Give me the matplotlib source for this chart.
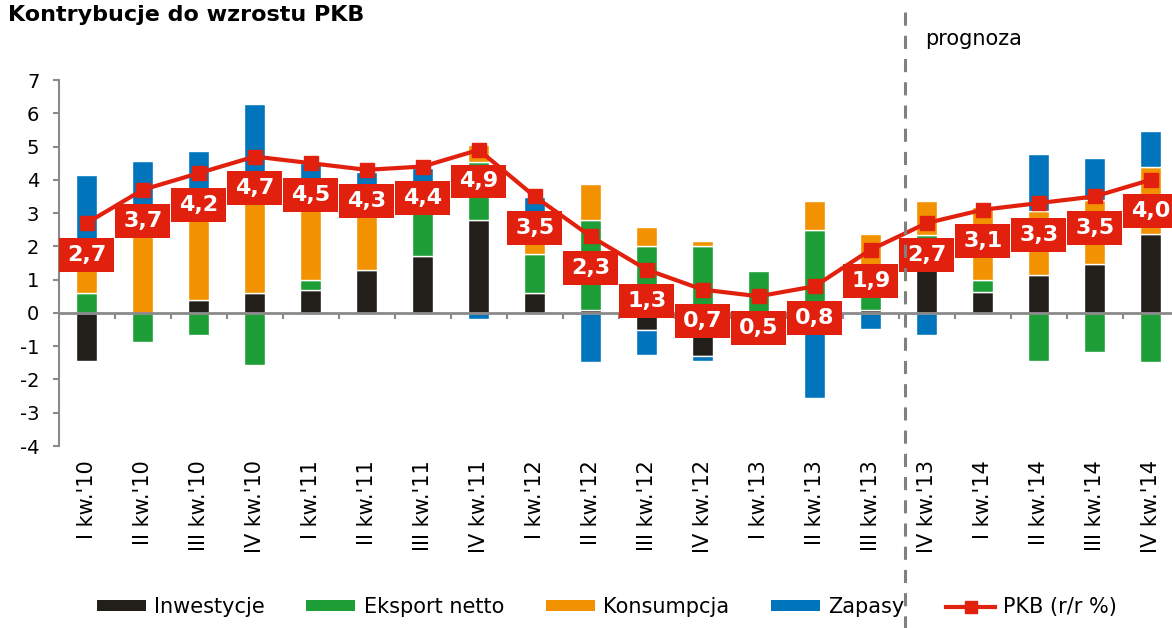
import numpy as np
import matplotlib
matplotlib.use('Agg')
import matplotlib.pyplot as plt
from matplotlib.patches import Patch, Rectangle
from matplotlib.lines import Line2D

plt.rcParams['font.family'] = ['DejaVu Sans']
plt.rcParams['axes.unicode_minus'] = False

# ---- dane ----
quarters = ["I kw.'10", "II kw.'10", "III kw.'10", "IV kw.'10",
            "I kw.'11", "II kw.'11", "III kw.'11", "IV kw.'11",
            "I kw.'12", "II kw.'12", "III kw.'12", "IV kw.'12",
            "I kw.'13", "II kw.'13", "III kw.'13", "IV kw.'13",
            "I kw.'14", "II kw.'14", "III kw.'14", "IV kw.'14"]
inwestycje = [-1.45, 0.0, 0.40, 0.60, 0.70, 1.30, 1.70, 2.80, 0.60, 0.10,
              -0.50, -1.30, -0.77, 0.0, 0.10, 1.90, 0.62, 1.15, 1.47, 2.37]
eksport = [0.60, -0.87, -0.67, -1.57, 0.28, 0.0, 2.20, 1.75, 1.17, 2.70,
           2.00, 2.00, 1.27, 2.50, 0.80, 0.43, 0.38, -1.45, -1.17, -1.47]
konsumpcja = [1.10, 2.60, 2.90, 3.00, 2.60, 2.20, 0.0, 0.50, 0.70, 1.07,
              0.57, 0.17, 0.0, 0.87, 1.48, 1.04, 2.17, 1.90, 1.93, 2.03]
zapasy = [2.45, 1.97, 1.57, 2.67, 0.94, 0.75, 0.47, -0.17, 1.00, -1.47,
          -0.77, -0.15, 0.0, -2.57, -0.48, -0.67, 0.0, 1.72, 1.27, 1.07]
pkb = [2.7, 3.7, 4.2, 4.7, 4.5, 4.3, 4.4, 4.9, 3.5, 2.3,
       1.3, 0.7, 0.5, 0.8, 1.9, 2.7, 3.1, 3.3, 3.5, 4.0]
prognoza_od = 14.62  # granica prognozy (między III i IV kw.'13)

series = [("Inwestycje", inwestycje, "#221e1a"),
          ("Eksport netto", eksport, "#1d9e36"),
          ("Konsumpcja", konsumpcja, "#f39200"),
          ("Zapasy", zapasy, "#0075bb")]
RED = "#e2200e"
GRAY = "#8a8a8a"

W, H = 1172, 628
fig = plt.figure(figsize=(W / 100, H / 100), dpi=100)
ax = fig.add_axes([58.7 / W, 182 / H, (W - 58.7) / W, 366 / H])

x = np.arange(len(quarters))
pos_b = np.zeros(len(x))
neg_b = np.zeros(len(x))
for name, vals, col in series:
    v = np.array(vals)
    bottom = np.where(v >= 0, pos_b, neg_b)
    m = v != 0
    ax.bar(x[m], v[m], 0.37, bottom=bottom[m], color=col,
           edgecolor='white', linewidth=1, zorder=1)
    pos_b += np.clip(v, 0, None)
    neg_b += np.clip(v, None, 0)

ax.plot(x, pkb, color=RED, lw=3, marker='s', markersize=10, zorder=4)

# etykiety PKB
for i, g in enumerate(pkb):
    cy = g - 0.95
    ax.add_patch(Rectangle((i - 0.49, cy - 0.51), 0.98, 1.02,
                           facecolor=RED, edgecolor='none', zorder=5))
    ax.text(i, cy, f"{g:.1f}".replace('.', ','), ha='center', va='center',
            color='white', fontsize=16, fontweight='bold', zorder=6)

ax.set_xlim(-0.5, -0.5 + (W - 58.7) / 56)
ax.set_ylim(-4, 7)
ax.set_yticks(range(-4, 8))
ax.tick_params(axis='y', labelsize=14, length=4, width=1.5, color=GRAY, pad=10)
ax.set_xticks(x)
ax.set_xticklabels(quarters, rotation=90, fontsize=15)
ax.tick_params(axis='x', length=0, pad=10)
for s in ['top', 'right', 'bottom']:
    ax.spines[s].set_visible(False)
ax.spines['left'].set_color(GRAY)
ax.spines['left'].set_linewidth(1.5)

# oś zerowa z podziałkami między kwartałami
sec = ax.secondary_xaxis(4 / 11)
sec.set_xticks(np.arange(len(x) - 1) + 0.5)
sec.tick_params(axis='x', length=4.5, width=1.5, color=GRAY, labelbottom=False)
sec.spines['bottom'].set_color(GRAY)
sec.spines['bottom'].set_linewidth(2)
sec.set_zorder(2)

# linia prognozy
ax.axvline(prognoza_od, ymin=-0.5, ymax=1.19, clip_on=False, color='#808080',
           lw=2.2, linestyle=(0, (4.3, 3.3)), zorder=10)
fig.text(925 / W, 1 - 45 / H, "prognoza", fontsize=15, va='baseline')

fig.text(8 / W, 1 - 20.7 / H, "Kontrybucje do wzrostu PKB", fontsize=16,
         fontweight='bold', va='baseline')

handles = [Patch(facecolor=c, edgecolor='none') for _, _, c in series]
handles.append(Line2D([], [], color=RED, lw=3, marker='s', markersize=9))
labels = [n for n, _, _ in series] + ["PKB (r/r %)"]
fig.legend(handles, labels, loc='center', bbox_to_anchor=(607 / W, 1 - 607 / H),
           ncol=5, frameon=False, fontsize=15, handlelength=2.35,
           handleheight=0.4, handletextpad=0.4, columnspacing=2.0)

fig.savefig("out.png", dpi=100)
